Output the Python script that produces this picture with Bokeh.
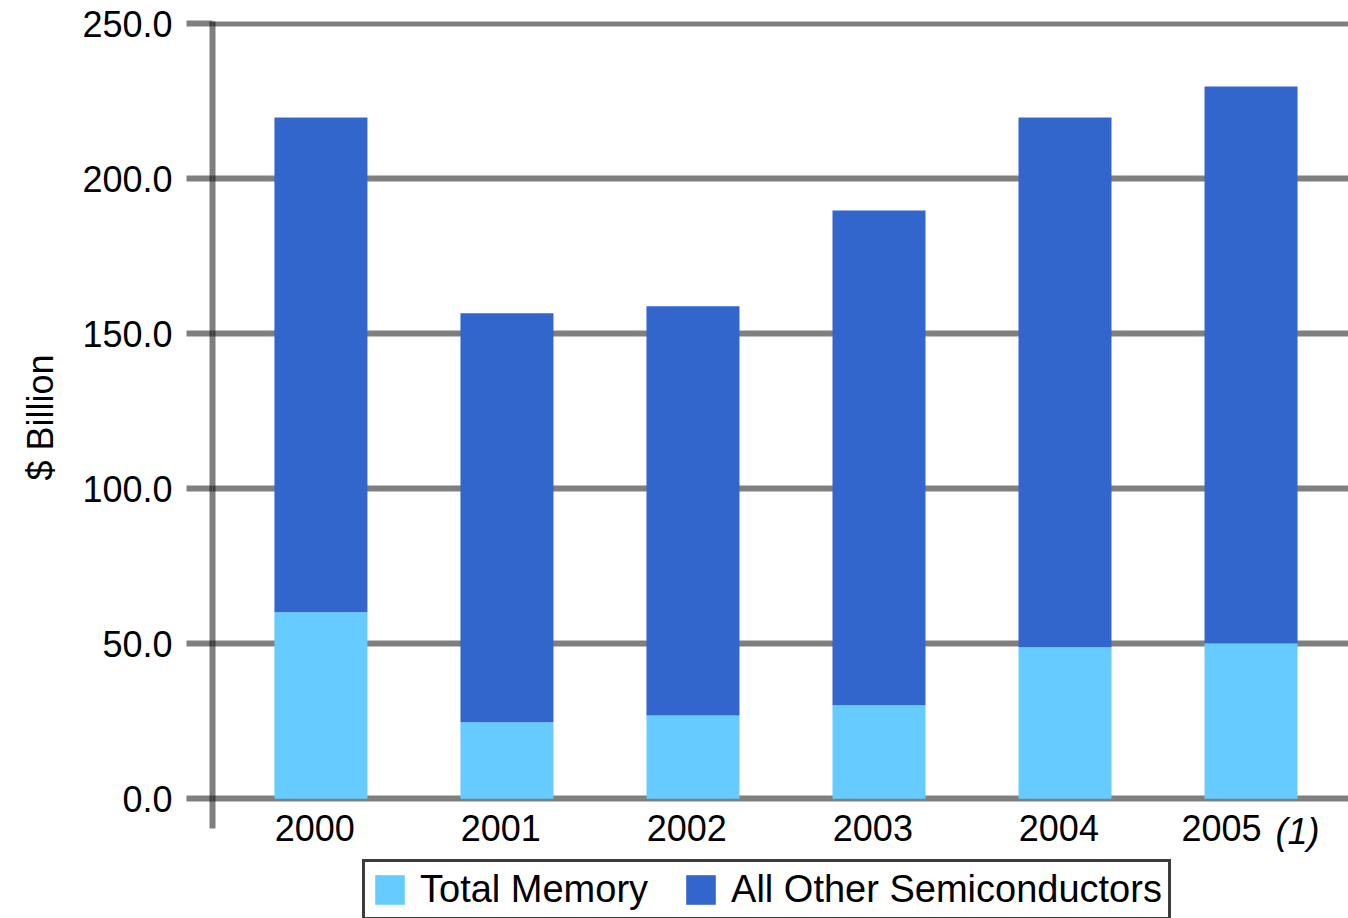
from bokeh.plotting import figure
from bokeh.models import (ColumnDataSource, Range1d, FixedTicker, PrintfTickFormatter,
                          CustomJSTickFormatter, Label, Legend, LegendItem, Title)
from bokeh.embed import file_html
from bokeh.resources import INLINE

# Worldwide semiconductor sales, $ billion
years = ["2000", "2001", "2002", "2003", "2004", "2005"]
memory = [60.2, 24.7, 26.9, 30.2, 48.9, 50.2]
other = [159.6, 131.9, 132.0, 159.6, 170.9, 179.6]
y_ticks = [0, 50, 100, 150, 200, 250]
footnote = "(1)"

FONT = "Liberation Sans"
GRID = "black"
GRID_ALPHA = 0.5

idx = list(range(len(years)))
source = ColumnDataSource(dict(x=idx, memory=memory, other=other))

# the frame runs to the bottom of the page so that the year labels and the
# legend under the zero line stay inside it; the value axis is cut short below
p = figure(width=1348, height=918, output_backend="svg", toolbar_location=None,
           x_range=Range1d(-0.583, 5.524), y_range=Range1d(-38.61, 250.74),
           min_border_left=212, min_border_right=0, min_border_top=21,
           min_border_bottom=0)
p.outline_line_color = None
p.background_fill_color = "white"
p.border_fill_color = "white"

bars = p.vbar_stack(["memory", "other"], x="x", width=0.5, source=source,
                    color=["#66CCFF", "#3366CC"], line_color=None)

# horizontal grid lines
p.xgrid.visible = False
p.ygrid.ticker = FixedTicker(ticks=y_ticks)
p.ygrid.grid_line_color = GRID
p.ygrid.grid_line_alpha = GRID_ALPHA
p.ygrid.grid_line_width = 6

# value axis
ya = p.yaxis[0]
ya.bounds = (-9.52, 250.74)
ya.ticker = FixedTicker(ticks=y_ticks)
ya.formatter = PrintfTickFormatter(format="%.1f")
ya.axis_line_color = GRID
ya.axis_line_alpha = GRID_ALPHA
ya.axis_line_width = 6
ya.major_tick_line_color = GRID
ya.major_tick_line_alpha = GRID_ALPHA
ya.major_tick_line_width = 6
ya.major_tick_out = 26
ya.major_tick_in = 0
ya.minor_tick_line_color = None
ya.major_label_standoff = 14
ya.major_label_text_font = FONT
ya.major_label_text_font_size = "36px"
ya.major_label_text_color = "black"

# value axis caption, raised to sit beside the visible part of the axis
p.add_layout(Title(text="$ Billion", text_font=FONT, text_font_size="36px",
                   text_font_style="normal", text_color="black",
                   align="left", vertical_align="top", offset=438,
                   standoff=34), "left")

# category axis, drawn at the zero line
xa = p.xaxis[0]
tick_pos = [i - 0.033 for i in idx[:-1]] + [idx[-1] - 0.159]
xa.ticker = FixedTicker(ticks=tick_pos)
xa.formatter = CustomJSTickFormatter(args=dict(labels=years),
                                     code="return labels[Math.round(tick)]")
xa.fixed_location = 0
xa.axis_line_color = None
xa.major_tick_line_color = None
xa.minor_tick_line_color = None
xa.major_tick_out = 0
xa.major_tick_in = 0
xa.major_label_standoff = 16
xa.major_label_text_font = FONT
xa.major_label_text_font_size = "36px"
xa.major_label_text_color = "black"

# footnote marker after the last year
p.add_layout(Label(x=idx[-1] + 0.132, y=-3.87, text=footnote, text_font=FONT,
                   text_font_size="36px", text_font_style="italic",
                   text_color="black", text_baseline="top", text_align="left"))

legend = Legend(items=[LegendItem(label="Total Memory", renderers=[bars[0]]),
                       LegendItem(label="All Other Semiconductors", renderers=[bars[1]])],
                orientation="horizontal", location=(150, -2),
                glyph_width=37, glyph_height=37, label_standoff=12, spacing=34,
                padding=6, label_text_font=FONT, label_text_font_size="38px",
                label_text_color="black", border_line_color="#3c3c3c",
                border_line_alpha=1.0, border_line_width=3,
                background_fill_color="white", background_fill_alpha=1.0)
p.add_layout(legend)

open("out.html", "w").write(file_html(p, INLINE))
